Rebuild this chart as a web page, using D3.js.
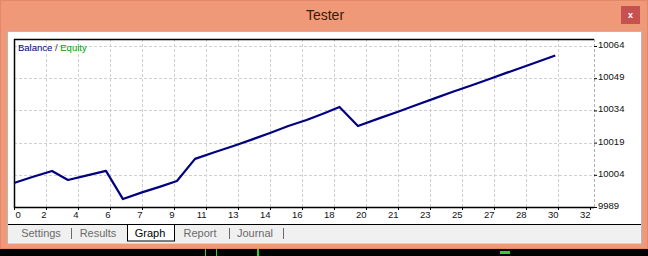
<!DOCTYPE html>
<html><head><meta charset="utf-8">
<script src="https://cdn.jsdelivr.net/npm/d3@7"></script>
<style>
html,body{margin:0;padding:0;background:#F09978;overflow:hidden}
svg{display:block}
text{font-family:"Liberation Sans",Arial,sans-serif}
</style></head>
<body>
<svg id="c" width="648" height="256"></svg>
<script>
// ---- data ----
const trades  = [0, 1, 2.08, 2.95, 4, 5.03, 5.96, 7, 8, 8.91, 9.9, 11, 12, 13, 14, 15, 16, 17, 17.8, 18.81, 20, 21, 22, 23, 24, 25, 26, 27, 28, 29.6];
const balance = [10000.2, 10003.0, 10005.8, 10001.6, 10003.7, 10005.8, 9992.7, 9995.8, 9998.5, 10001.1, 10011.4, 10014.6, 10017.4, 10020.4, 10023.5, 10026.7, 10029.5, 10032.8, 10035.6, 10026.7, 10030.4, 10033.4, 10036.5, 10039.6, 10042.7, 10045.6, 10048.6, 10051.7, 10054.7, 10059.6];
const xTickLabels = ["0","2","4","6","7","9","11","13","14","16","18","20","21","23","25","27","28","30","32"];
const xTickStep = 1.75;
const yTickLabels = [9989, 10004, 10019, 10034, 10049, 10064];
const tabs = ["Settings","Results","Graph","Report","Journal"];

const svg = d3.select("#c");
const W = 648, H = 256;

// window chrome
svg.append("rect").attr("x",0).attr("y",0).attr("width",W).attr("height",H).attr("fill","#F09978");
svg.append("rect").attr("x",0.5).attr("y",0.5).attr("width",W-1).attr("height",248).attr("fill","none").attr("stroke","#E4886A");
svg.append("text").attr("x",325).attr("y",20).attr("text-anchor","middle")
  .attr("font-size",14).attr("fill","#3a1a08").text("Tester");
svg.append("rect").attr("x",621).attr("y",6).attr("width",19).attr("height",18).attr("fill","#C75050");
svg.append("text").attr("x",630.5).attr("y",18).attr("text-anchor","middle")
  .attr("font-size",9).attr("font-weight","bold").attr("fill","#fff").text("x");

// panel
svg.append("rect").attr("x",7.5).attr("y",31.5).attr("width",634).attr("height",212).attr("fill","#fff").attr("stroke","#B8B8B8");
// tab strip
svg.append("rect").attr("x",8).attr("y",224).attr("width",633).attr("height",19.5).attr("fill","#F0F0F0");
svg.append("line").attr("x1",8).attr("x2",641).attr("y1",224.5).attr("y2",224.5).attr("stroke","#000");
// bottom black strip
svg.append("rect").attr("x",0).attr("y",249).attr("width",W).attr("height",7).attr("fill","#000");
[[205,1],[216,1],[257,2],[500,10]].forEach(([px,w])=>{
  svg.append("rect").attr("x",px).attr("y",w>2?251:249).attr("width",w).attr("height",w>2?3:7).attr("fill","#2fd12f");
});

// scales
const x = d3.scaleLinear().domain([0, (xTickLabels.length-1)*xTickStep]).range([14, 590]);
const y = d3.scaleLinear().domain([yTickLabels[0], yTickLabels[yTickLabels.length-1]]).range([207, 46]);
const pLeft = 14, pRight = 594, pTop = 39, pBottom = 207;
const xTickVals = xTickLabels.map((d,i)=>i*xTickStep);

// grid
const g = svg.append("g");
g.selectAll(".hg").data(yTickLabels.slice(1)).join("line")
  .attr("x1",pLeft).attr("x2",pRight).attr("y1",d=>Math.round(y(d))+0.5).attr("y2",d=>Math.round(y(d))+0.5)
  .attr("stroke","#D0D0D0").attr("stroke-dasharray","3,2");
g.selectAll(".vg").data(xTickVals.slice(1,-1)).join("line")
  .attr("y1",pTop).attr("y2",pBottom).attr("x1",d=>Math.round(x(d))+0.5).attr("x2",d=>Math.round(x(d))+0.5)
  .attr("stroke","#D0D0D0").attr("stroke-dasharray","3,2");
g.append("line").attr("y1",pTop).attr("y2",pBottom).attr("x1",pRight+0.5).attr("x2",pRight+0.5)
  .attr("stroke","#B0B0B0").attr("stroke-dasharray","3,2");

// x axis
const xAxis = d3.axisBottom(x).tickValues(xTickVals).tickSize(3).tickPadding(1)
  .tickFormat((d,i)=>xTickLabels[i]);
const xa = svg.append("g").attr("transform",`translate(0,${pBottom})`).call(xAxis);
xa.select(".domain").remove();
xa.selectAll(".tick line").attr("stroke","#000");
xa.selectAll(".tick text").attr("font-size",9.5).attr("fill","#111").attr("font-family","Liberation Sans, Arial, sans-serif")
  .attr("text-anchor",(d,i)=> i===0 ? "start" : "end").attr("x",(d,i)=> i===0 ? 1 : 0).attr("dy",null).attr("y",10.5);

// y axis
const yAxis = d3.axisRight(y).tickValues(yTickLabels).tickSize(3).tickPadding(1).tickFormat(d=>d);
const ya = svg.append("g").attr("transform",`translate(${pRight},0)`).call(yAxis);
ya.select(".domain").remove();
ya.selectAll(".tick line").attr("stroke","#000");
ya.selectAll(".tick text").attr("font-size",9.5).attr("fill","#111").attr("font-family","Liberation Sans, Arial, sans-serif")
  .attr("dy",null).attr("y",1.5).attr("x",4);

// borders
svg.append("line").attr("x1",pLeft).attr("x2",pRight).attr("y1",pTop+0.5).attr("y2",pTop+0.5).attr("stroke","#000").attr("stroke-width",1.5);
svg.append("line").attr("x1",pLeft+0.5).attr("x2",pLeft+0.5).attr("y1",pTop).attr("y2",pBottom+1).attr("stroke","#000").attr("stroke-width",1.5);
svg.append("line").attr("x1",pLeft).attr("x2",pRight).attr("y1",pBottom+0.5).attr("y2",pBottom+0.5).attr("stroke","#000").attr("stroke-width",1.5);

// balance line
const pts = trades.map((t,i)=>[t,balance[i]]);
svg.append("path").datum(pts)
  .attr("d", d3.line().x(d=>x(d[0])).y(d=>y(d[1])))
  .attr("fill","none").attr("stroke","#000080").attr("stroke-width",2.2).attr("stroke-linejoin","round");

// legend
const lg = svg.append("text").attr("x",18).attr("y",51).attr("font-size",9.5);
lg.append("tspan").attr("fill","#000080").text("Balance");
lg.append("tspan").attr("fill","#333").text(" / ");
lg.append("tspan").attr("fill","#00A000").text("Equity");

// tabs
const tabX = [41, 98, 150, 200, 255];
const sepX = [71, 229, 283];
svg.append("rect").attr("x",127.5).attr("y",224.5).attr("width",47).attr("height",16.5).attr("fill","#fff").attr("stroke","#000");
svg.selectAll(".tab").data(tabs).join("text")
  .attr("x",(d,i)=>tabX[i]).attr("y",237).attr("text-anchor","middle").attr("font-size",11)
  .attr("fill",d=> d==="Graph" ? "#000" : "#6a6a6a").text(d=>d);
svg.selectAll(".sep").data(sepX).join("line")
  .attr("x1",d=>d+0.5).attr("x2",d=>d+0.5).attr("y1",228).attr("y2",239).attr("stroke","#6a6a6a");
</script>
</body></html>
